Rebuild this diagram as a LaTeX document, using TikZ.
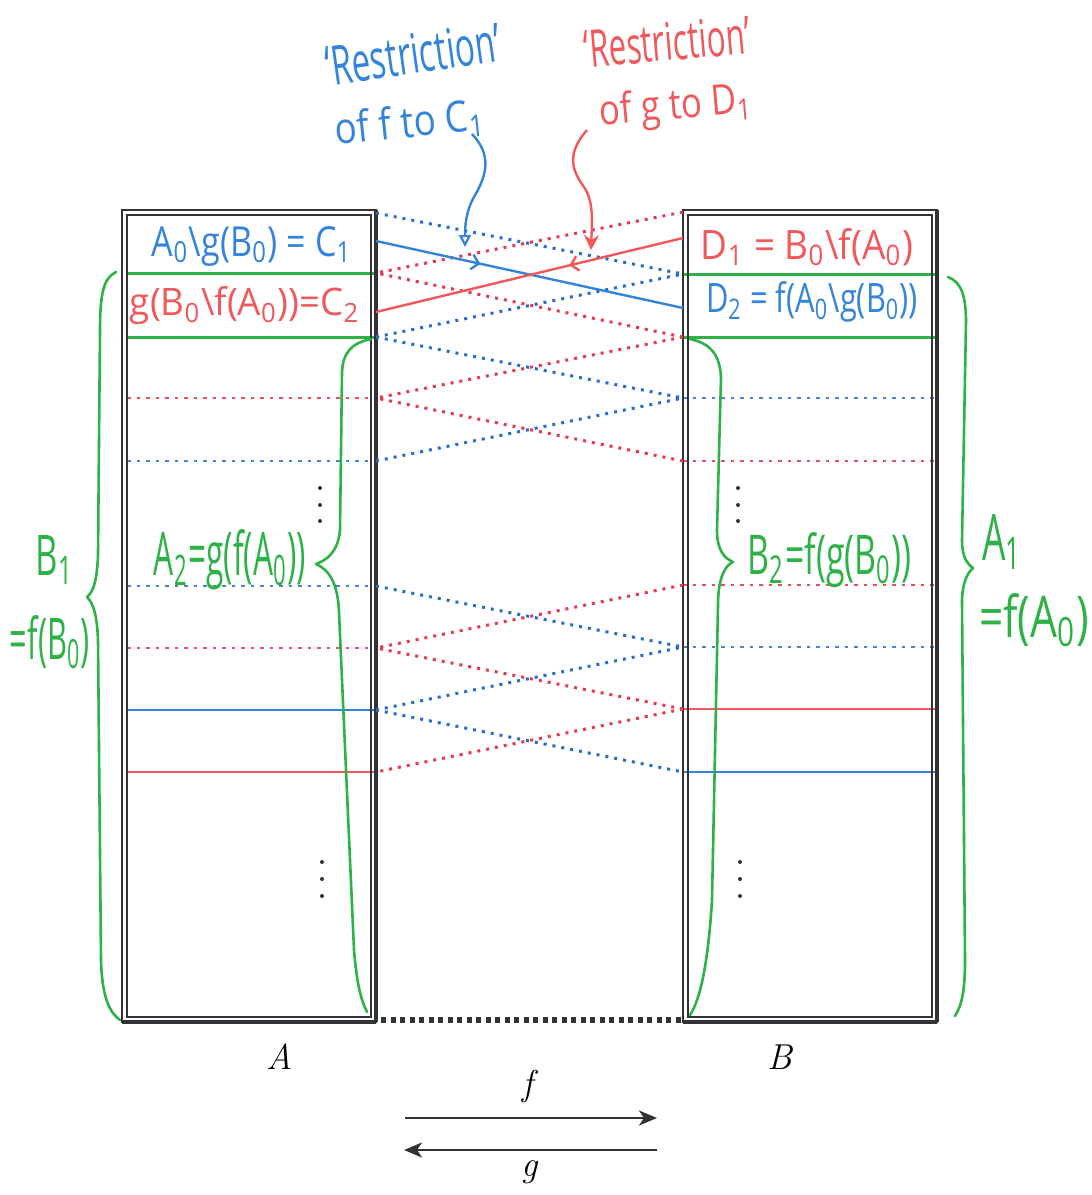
\documentclass[tikz,border=0pt]{standalone}
\usepackage{fontspec}
\usepackage{graphicx}
\newfontfamily\handfont{Open Sans}
\usetikzlibrary{arrows.meta,decorations.markings}
\definecolor{hblue}{RGB}{52,132,218}
\definecolor{hred}{RGB}{240,88,92}
\definecolor{hgreen}{RGB}{46,178,72}
\definecolor{dblue}{RGB}{40,110,200}
\definecolor{dred}{RGB}{228,58,82}
\definecolor{boxgray}{RGB}{50,50,55}
\newcommand{\hw}[3]{\resizebox{#1}{#2}{\handfont #3}}
\newcommand{\sbs}[1]{\textsubscript{#1}}
\tikzset{
  boxline/.style={draw=boxgray, line width=2pt},
  xblue/.style={draw=dblue, line width=3pt, dash pattern=on 3pt off 6pt},
  xred/.style={draw=dred, line width=3pt, dash pattern=on 3pt off 6pt},
  hbluedot/.style={draw=dblue!85, line width=1.5pt, dash pattern=on 3.5pt off 6pt},
  hreddot/.style={draw=dred!90, line width=1.5pt, dash pattern=on 3.5pt off 6pt},
  hbluesolid/.style={draw=hblue, line width=1.5pt},
  hredsolid/.style={draw=hred, line width=1.5pt},
  greenline/.style={draw=hgreen, line width=3pt},
  greenbrace/.style={draw=hgreen, line width=2.6pt, line cap=round, line join=round},
  penblue/.style={draw=hblue, line width=2.4pt},
  penred/.style={draw=hred, line width=2.4pt},
  lbl/.style={inner sep=0pt, outer sep=0pt},
  vdot/.style={fill=boxgray},
  maparrow/.style={draw=boxgray, line width=2.6pt, -{Stealth[length=18pt,width=15pt,inset=5pt]}},
  printlbl/.style={inner sep=0pt, font=\fontsize{36}{40}\selectfont\itshape}
}
\begin{document}
\begin{tikzpicture}[x=1pt,y=-1pt]
\useasboundingbox[fill=white] (0,0) rectangle (1092,1195);

% ---------- coordinates of row boundaries ----------
\foreach \n/\y in {0/213,1/273,2/337,3/398,4/461,5/586,6/648,7/710,8/772}{
  \coordinate (a\n) at (376,\y);
  \coordinate (aL\n) at (127,\y);
}
\foreach \n/\y in {0/212,1/274,2/337,3/398,4/461,5/585,6/647,7/709,8/772}{
  \coordinate (b\n) at (683,\y);
  \coordinate (bR\n) at (935,\y);
}

% ---------- horizontal lines inside boxes ----------
\draw[greenline] (aL1) -- (a1);
\draw[greenline] (aL2) -- (a2);
\draw[greenline] (b1) -- (bR1);
\draw[greenline] (b2) -- (bR2);
\draw[hreddot] (aL3) -- (a3);
\draw[hbluedot] (aL4) -- (a4);
\draw[hbluedot] (aL5) -- (a5);
\draw[hreddot] (aL6) -- (a6);
\draw[hbluesolid] (aL7) -- (a7);
\draw[hredsolid] (aL8) -- (a8);
\draw[hbluedot] (b3) -- (bR3);
\draw[hreddot] (b4) -- (bR4);
\draw[hreddot] (b5) -- (bR5);
\draw[hbluedot] (b6) -- (bR6);
\draw[hredsolid] (b7) -- (bR7);
\draw[hbluesolid] (b8) -- (bR8);

% ---------- boxes ----------
\draw[boxline] (122,210) rectangle (376,1022);
\draw[draw=boxgray, line width=1.4pt] (127,215) rectangle (371,1017);
\draw[draw=boxgray, line width=3.4pt] (376,210) -- (376,1022);
\draw[draw=boxgray, line width=3.6pt] (122,1022) -- (376,1022);
\draw[boxline] (683,210) rectangle (937,1022);
\draw[draw=boxgray, line width=1.4pt] (688,215) rectangle (932,1017);
\draw[draw=boxgray, line width=3.4pt] (937,210) -- (937,1022);
\draw[draw=boxgray, line width=3.6pt] (683,1022) -- (937,1022);

% bottom dotted join
\coordinate (bl) at (381,1020);
\coordinate (br) at (681,1020);
\draw[draw=boxgray, line width=6pt, dash pattern=on 5pt off 4.5pt] (bl) -- (br);

% ---------- crossing dotted maps ----------
\draw[xblue] (a0) -- (b1);
\draw[xblue] (a2) -- (b1);
\draw[xblue] (a2) -- (b3);
\draw[xblue] (a4) -- (b3);
\draw[xblue] (a5) -- (b6);
\draw[xblue] (a7) -- (b6);
\draw[xblue] (a7) -- (b8);
\draw[xred] (b0) -- (a1);
\draw[xred] (b2) -- (a1);
\draw[xred] (b2) -- (a3);
\draw[xred] (b4) -- (a3);
\draw[xred] (b5) -- (a6);
\draw[xred] (b7) -- (a6);
\draw[xred] (b7) -- (a8);

% ---------- solid restriction lines ----------
\coordinate (c1m) at (376,241);
\coordinate (d2m) at (683,308);
\coordinate (d1m) at (683,238);
\coordinate (c2m) at (376,312);
\draw[penblue, postaction={decorate}, decoration={markings, mark=at position 0.34 with {\arrow[hblue, line width=2.4pt]{Straight Barb[length=7pt,width=15pt]}}}] (c1m) -- (d2m);
\draw[penred, postaction={decorate}, decoration={markings, mark=at position 0.37 with {\arrow[hred, line width=2.4pt]{Straight Barb[length=7pt,width=15pt]}}}] (d1m) -- (c2m);

% ---------- vertical dots ----------
\foreach \x/\y in {320/488,320/505,320/521,322/862,322/879,322/896,738/488,738/505,738/521,740/862,740/879,740/896}{
  \fill[vdot] (\x,\y) circle (2pt);
}

% ---------- green braces ----------
\draw[greenbrace] (116,272) .. controls (104,278) and (100,292) .. (100,330) -- (98,555) .. controls (97,582) and (93,592) .. (87,597) .. controls (93,603) and (97,614) .. (98,640) -- (101,960) .. controls (102,998) and (110,1013) .. (120,1020);
\draw[greenbrace] (371,339) .. controls (352,343) and (343,352) .. (342,372) -- (340,530) .. controls (338,552) and (327,560) .. (316,564) .. controls (330,570) and (338,585) .. (339,612) -- (354,950) .. controls (357,985) and (361,1000) .. (367,1012);
\draw[greenbrace] (690,339) .. controls (708,343) and (720,352) .. (721,378) -- (717,530) .. controls (717,550) and (724,558) .. (733,562) .. controls (724,566) and (718,580) .. (718,605) -- (712,900) .. controls (708,965) and (700,1000) .. (690,1015);
\draw[greenbrace] (948,277) .. controls (961,282) and (966,295) .. (966,322) -- (962,540) .. controls (962,555) and (966,563) .. (973,568) .. controls (966,574) and (962,586) .. (962,602) -- (965,960) .. controls (965,990) and (962,1005) .. (955,1016);

% ---------- annotation arrows ----------
\coordinate (bluestart) at (472,134);
\coordinate (bluetip) at (465,247);
\coordinate (redstart) at (587,130);
\coordinate (redtip) at (591,250);
\draw[penblue, -{Triangle[open, length=12pt, width=12pt, line width=2.2pt]}] (bluestart) .. controls (492,155) and (487,175) .. (474,197) .. controls (466,211) and (465,226) .. (bluetip);
\draw[penred, -{Stealth[length=15pt, width=15pt, inset=5pt]}] (redstart) .. controls (568,152) and (570,168) .. (584,187) .. controls (594,202) and (592,222) .. (redtip);

% ---------- handwritten labels ----------
\node[lbl, text=hblue] (lc1) at (252,246) {\hw{200pt}{30pt}{A\sbs{0}\textbackslash g(B\sbs{0}) = C\sbs{1}}};
\node[lbl, text=hred] (lc2) at (245,306) {\hw{230pt}{29pt}{g(B\sbs{0}\textbackslash f(A\sbs{0}))=C\sbs{2}}};
\node[lbl, text=hred] (ld1) at (807,247) {\hw{212pt}{31pt}{D\sbs{1} = B\sbs{0}\textbackslash f(A\sbs{0})}};
\node[lbl, text=hblue] (ld2) at (812,302) {\hw{212pt}{31pt}{D\sbs{2} = f(A\sbs{0}\textbackslash g(B\sbs{0}))}};
\node[lbl, text=hgreen] (la2) at (230,560) {\hw{152pt}{46pt}{A\sbs{2}=g(f(A\sbs{0}))}};
\node[lbl, text=hgreen] (lb2) at (830,560) {\hw{164pt}{42pt}{B\sbs{2}=f(g(B\sbs{0}))}};
\node[lbl, text=hgreen] (lb1) at (55,560) {\hw{38pt}{40pt}{B\sbs{1}}};
\node[lbl, text=hgreen] (lb1b) at (50,642) {\hw{80pt}{44pt}{=f(B\sbs{0})}};
\node[lbl, text=hgreen] (la1) at (1002,542) {\hw{40pt}{46pt}{A\sbs{1}}};
\node[lbl, text=hgreen] (la1b) at (1034,620) {\hw{110pt}{44pt}{=f(A\sbs{0})}};
\node[lbl, text=hblue, rotate=8] (rb1) at (413,54) {\hw{176pt}{40pt}{‘Restriction’}};
\node[lbl, text=hblue, rotate=6] (rb2) at (410,124) {\hw{150pt}{33pt}{of f to C\sbs{1}}};
\node[lbl, text=hred, rotate=5] (rr1) at (667,42) {\hw{166pt}{38pt}{‘Restriction’}};
\node[lbl, text=hred, rotate=5] (rr2) at (676,108) {\hw{153pt}{32pt}{of g to D\sbs{1}}};

% ---------- printed labels ----------
\node[printlbl] (lA) at (280,1057) {A};
\node[printlbl] (lB) at (780,1057) {B};
\coordinate (fs) at (405,1118);
\coordinate (fe) at (657,1118);
\coordinate (gs) at (657,1150);
\coordinate (ge) at (404,1150);
\draw[maparrow] (fs) -- (fe);
\draw[maparrow] (gs) -- (ge);
\node[printlbl] (lf) at (528,1086) {f};
\node[printlbl] (lg) at (530,1172) {g};
\end{tikzpicture}
\end{document}
